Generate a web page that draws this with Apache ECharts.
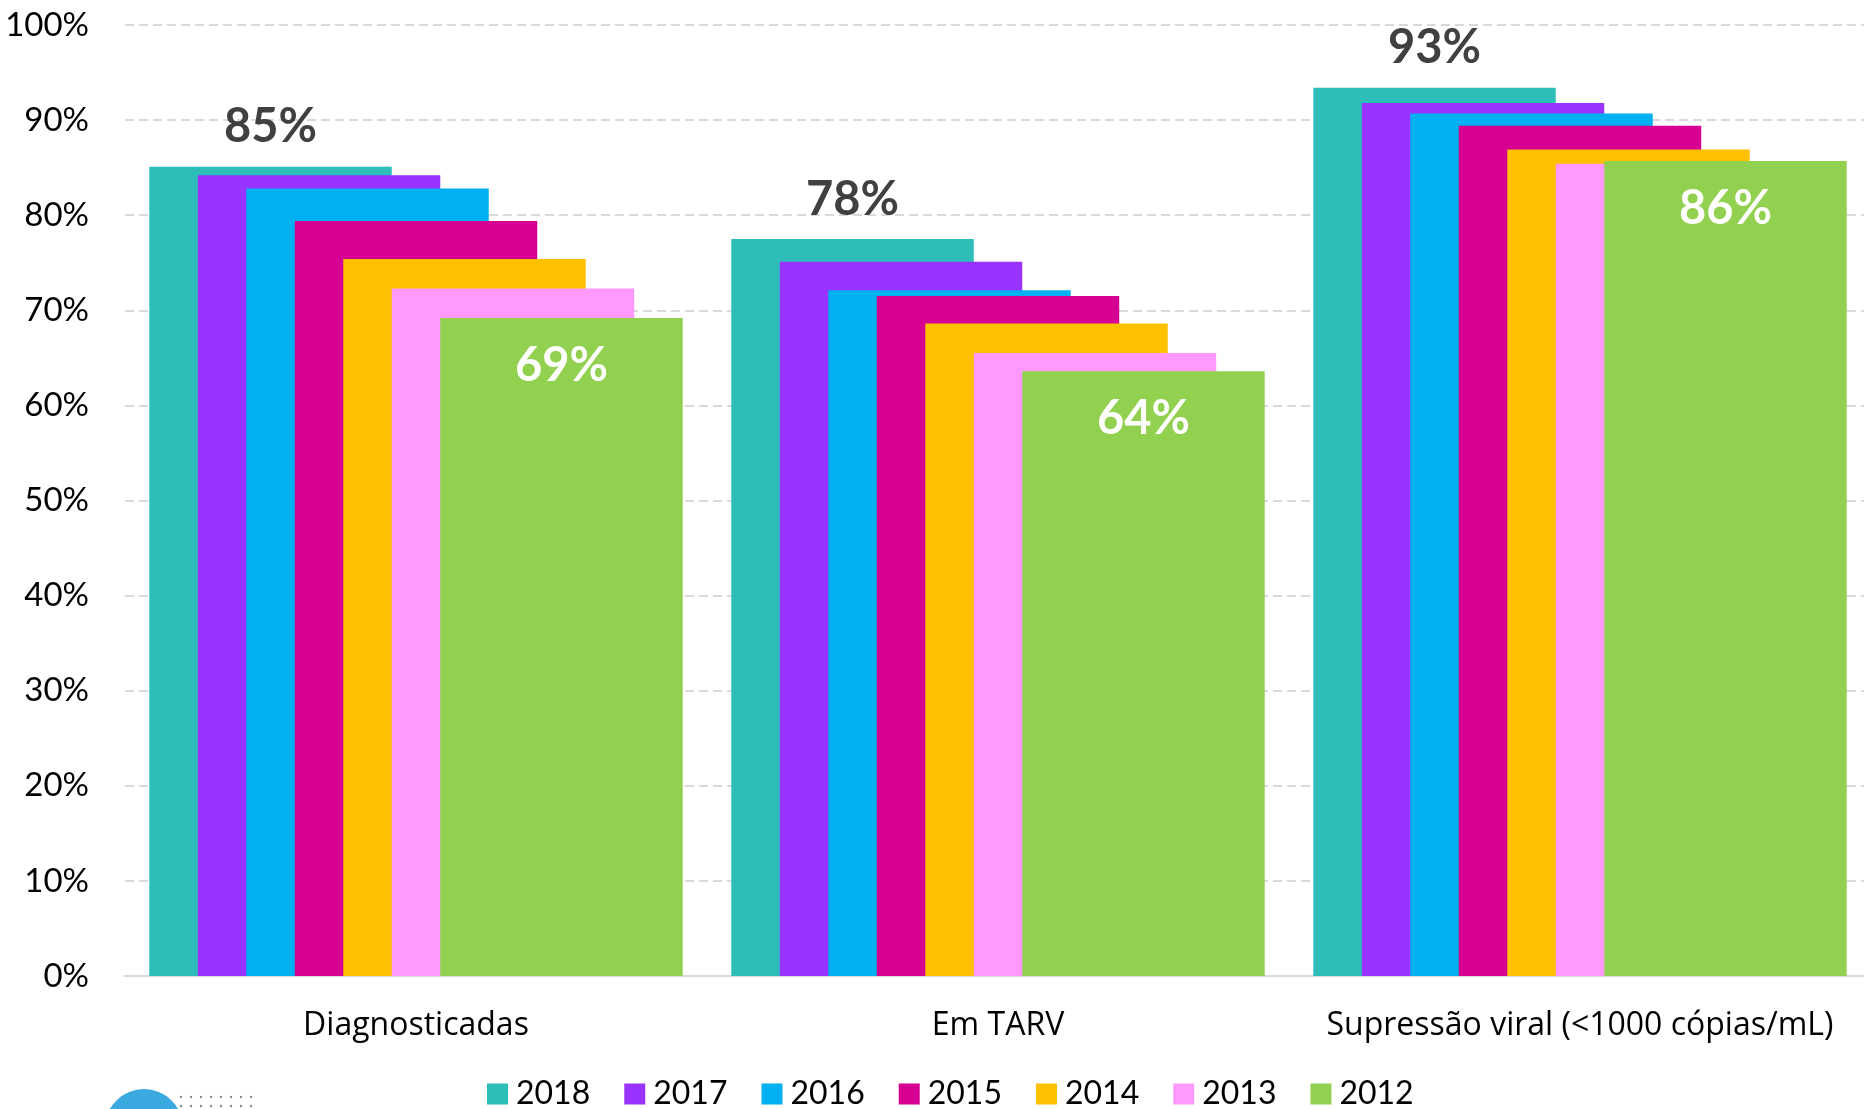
<!DOCTYPE html>
<html>
<head>
<meta charset="utf-8">
<title>Cascata de cuidado</title>
<script src="https://cdn.jsdelivr.net/npm/echarts@6/dist/echarts.min.js"></script>
<style>
  html, body { margin: 0; padding: 0; background: #ffffff; }
  #chart { width: 1864px; height: 1109px; }
</style>
</head>
<body>
<div id="chart"></div>
<script>
// Categories of the care cascade
const categories = ['Diagnosticadas', 'Em TARV', 'Supressão viral (<1000 cópias/mL)'];

// One series per year, drawn from the most recent (back) to the oldest (front)
const years = ['2018', '2017', '2016', '2015', '2014', '2013', '2012'];

// Percentage values per year, in category order
const v2018 = [85.1, 77.5, 93.4];
const v2017 = [84.2, 75.1, 91.8];
const v2016 = [82.8, 72.1, 90.7];
const v2015 = [79.4, 71.5, 89.4];
const v2014 = [75.4, 68.6, 86.9];
const v2013 = [72.3, 65.5, 85.4];
const v2012 = [69.2, 63.6, 85.7];

// Y axis ticks
const yTicks = [0, 10, 20, 30, 40, 50, 60, 70, 80, 90, 100];

const seriesValues = [v2018, v2017, v2016, v2015, v2014, v2013, v2012];
const colors = ['#2DBEB9', '#9933FF', '#00B0F0', '#D60093', '#FFC000', '#FF99FF', '#92D050'];

const FONT = 'Lato, "Open Sans", sans-serif';
const WIDE_FONT = '"Open Sans", Lato, sans-serif';
const pct = p => Math.round(p.value) + '%';

const series = years.map((y, i) => {
  const s = {
    name: y,
    type: 'bar',
    data: seriesValues[i],
    barWidth: '41.66%',
    barGap: '-80%',
    itemStyle: { color: colors[i] },
    emphasis: { disabled: true },
    animation: false,
    z: 2 + i
  };
  if (i === 0) {
    s.label = {
      show: true, position: 'top', distance: 16,
      formatter: pct, fontFamily: FONT, fontWeight: 'bold',
      fontSize: 47, color: '#404040'
    };
  } else if (i === years.length - 1) {
    s.label = {
      show: true, position: 'insideTop', distance: 24,
      formatter: pct, fontFamily: FONT, fontWeight: 'bold',
      fontSize: 47, color: '#ffffff'
    };
  }
  return s;
});

// Small logo fragment at the bottom left: a blue disc and two rows of dots
const logo = [{
  type: 'circle',
  shape: { cx: 144, cy: 1128, r: 39 },
  style: { fill: '#39A9DF' },
  silent: true
}];
for (let r = 0; r < 2; r++) {
  for (let k = 0; k < 8; k++) {
    logo.push({
      type: 'circle',
      shape: { cx: 181 + k * 10, cy: 1097 + r * 9, r: 1.2 },
      style: { fill: '#8a8a8a' },
      silent: true
    });
  }
}

const chart = echarts.init(document.getElementById('chart'), null, { renderer: 'canvas' });
chart.setOption({
  backgroundColor: '#ffffff',
  animation: false,
  textStyle: { fontFamily: FONT },
  grid: {
    left: 125, top: 25, bottom: 133, width: 1746,
    containLabel: false, outerBoundsMode: 'none'
  },
  legend: {
    data: years,
    left: 482, top: 1073,
    itemWidth: 21, itemHeight: 21, itemGap: 34,
    icon: 'rect',
    textStyle: { fontFamily: FONT, fontSize: 32, color: '#000000', padding: [0, 0, 0, 3] },
    selectedMode: false
  },
  xAxis: {
    type: 'category',
    data: categories,
    axisLine: { show: true, lineStyle: { color: '#D9D9D9', width: 2 } },
    axisTick: { show: false },
    axisLabel: { fontFamily: WIDE_FONT, fontSize: 32, color: '#000000', margin: 34, interval: 0 }
  },
  yAxis: {
    type: 'value',
    min: yTicks[0], max: yTicks[yTicks.length - 1], interval: yTicks[1] - yTicks[0],
    axisLine: { show: false },
    axisTick: { show: false },
    axisLabel: { fontFamily: FONT, fontSize: 33, color: '#000000', margin: 36, formatter: '{value}%' },
    splitLine: { show: true, lineStyle: { color: '#D9D9D9', width: 2, type: [9, 5] } }
  },
  graphic: logo,
  series: series
});
</script>
</body>
</html>
